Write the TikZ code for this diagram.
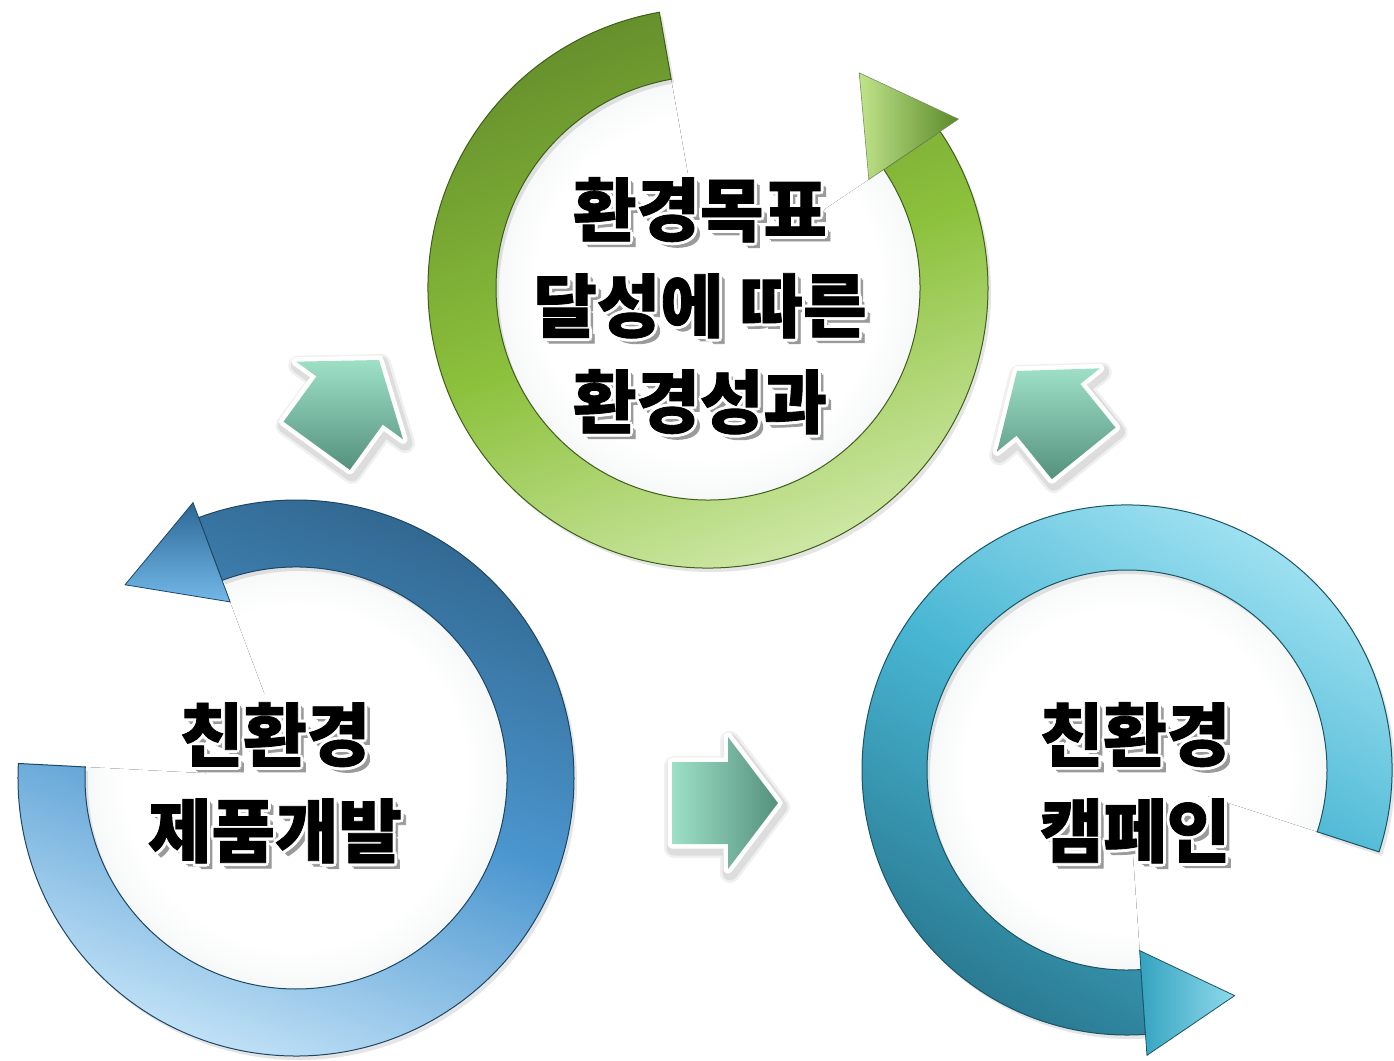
\documentclass[tikz,border=0pt]{standalone}
\usepackage{fontspec}
\newfontfamily\kr{Noto Sans CJK KR}[BoldFeatures={FakeBold=1.2}]
\definecolor{gTop}{HTML}{66902C}
\definecolor{gMid}{HTML}{8CC13C}
\definecolor{gBot}{HTML}{D2EAAC}
\definecolor{gLine}{HTML}{3F5F1A}
\definecolor{gHeadL}{HTML}{C0E38A}
\definecolor{gHeadR}{HTML}{5A8A28}
\definecolor{bTop}{HTML}{31678F}
\definecolor{bMid}{HTML}{4B96CF}
\definecolor{bBot}{HTML}{C2E2F7}
\definecolor{bLine}{HTML}{1D4665}
\definecolor{bHeadT}{HTML}{2D6896}
\definecolor{bHeadB}{HTML}{72B8E8}
\definecolor{tTop}{HTML}{A9E6F5}
\definecolor{tMid}{HTML}{48B6D3}
\definecolor{tBot}{HTML}{2A7A92}
\definecolor{tLine}{HTML}{1A5566}
\definecolor{tHeadL}{HTML}{35A3C0}
\definecolor{tHeadR}{HTML}{8FDAEC}
\definecolor{mintL}{HTML}{9EE0C7}
\definecolor{mintD}{HTML}{55917E}
\definecolor{discgray}{HTML}{E2E7E8}
\definecolor{txtshadow}{HTML}{9A9A9A}
\pgfdeclareradialshading{discglow}{\pgfpointorigin}{color(0bp)=(white); color(20bp)=(white); color(36bp)=(discgray); color(50bp)=(discgray)}
\newcommand\shiftcopy[3]{\makebox[0pt][l]{\kern#1\raisebox{#2}{#3}}}
\newcommand\olt[1]{{\color{txtshadow}\shiftcopy{4pt}{-4pt}{#1}\shiftcopy{5.5pt}{-5.5pt}{#1}}{\color{white}\shiftcopy{3pt}{0pt}{#1}\shiftcopy{-3pt}{0pt}{#1}\shiftcopy{0pt}{3pt}{#1}\shiftcopy{0pt}{-3pt}{#1}\shiftcopy{2.2pt}{2.2pt}{#1}\shiftcopy{-2.2pt}{2.2pt}{#1}\shiftcopy{2.2pt}{-2.2pt}{#1}\shiftcopy{-2.2pt}{-2.2pt}{#1}}#1}
\tikzset{
  txt/.style={align=center, font=\kr\bfseries\fontsize{69pt}{96pt}\selectfont, text=black, inner sep=0pt},
  ringshadow/.style={fill=black, opacity=.10, transform canvas={shift={(3pt,-4pt)}}},
  blockarrow/.style={
    preaction={draw=black, opacity=.06, line width=20pt, line join=round, transform canvas={shift={(2pt,-4pt)}}},
    preaction={draw=black, opacity=.08, line width=15pt, line join=round, transform canvas={shift={(2pt,-4pt)}}},
    preaction={draw=white, line width=9pt, line join=round},
    top color=mintL, bottom color=mintD},
}
\begin{document}
\begin{tikzpicture}[x=1pt,y=-1pt]
\path[use as bounding box, clip] (0,0) rectangle (1394,1060);
\fill[white] (0,0) rectangle (1394,1060);

% ---------- green ring (top) ----------
\begin{scope}[shift={(708,288)}]
  \begin{scope}
    \clip (0,0) -- (100:214pt) arc[start angle=100, end angle=394, radius=214pt] -- cycle;
    \fill[shading=discglow] (0,0) circle[radius=214pt];
  \end{scope}
  \fill[white] (0,0) circle[radius=90pt];
  \path[ringshadow] (100:280pt) arc[start angle=100, end angle=394, radius=280pt] -- (394:212pt) arc[start angle=394, end angle=100, radius=212pt] -- cycle;
  \path[top color=gTop, bottom color=gBot, middle color=gMid, shading angle=20, draw=gLine, line width=1pt]
    (100:280pt) arc[start angle=100, end angle=394, radius=280pt] -- (394:212pt) arc[start angle=394, end angle=100, radius=212pt] -- cycle;
  \path[left color=gHeadL, right color=gHeadR, draw=gLine!70, line width=.6pt]
    (34:194pt) coordinate (gh1) -- (34:302pt) coordinate (gh2) -- (54.9:263pt) coordinate (gtip) -- cycle;
\end{scope}

% ---------- blue ring (left) ----------
\begin{scope}[shift={(296,778)}]
  \begin{scope}
    \clip (0,0) -- (177:213pt) arc[start angle=177, end angle=470.5, radius=213pt] -- cycle;
    \fill[shading=discglow] (0,0) circle[radius=213pt];
  \end{scope}
  \fill[white] (0,0) circle[radius=90pt];
  \path[ringshadow] (177:278pt) arc[start angle=177, end angle=470.5, radius=278pt] -- (470.5:211pt) arc[start angle=470.5, end angle=177, radius=211pt] -- cycle;
  \path[top color=bTop, bottom color=bBot, middle color=bMid, shading angle=-20, draw=bLine, line width=1pt]
    (177:278pt) arc[start angle=177, end angle=470.5, radius=278pt] -- (470.5:211pt) arc[start angle=470.5, end angle=177, radius=211pt] -- cycle;
  \path[top color=bHeadT, bottom color=bHeadB, draw=bLine, line width=.8pt]
    (110.5:188pt) coordinate (bh1) -- (110.5:294pt) coordinate (bh2) -- (131.5:258pt) coordinate (btip) -- cycle;
\end{scope}

% ---------- teal ring (right) ----------
\begin{scope}[shift={(1127,770)}]
  \begin{scope}
    \clip (0,0) -- (-18:202pt) arc[start angle=-18, end angle=274, radius=202pt] -- cycle;
    \fill[shading=discglow] (0,0) circle[radius=202pt];
  \end{scope}
  \fill[white] (0,0) circle[radius=85pt];
  \path[ringshadow] (-18:265pt) arc[start angle=-18, end angle=274, radius=265pt] -- (274:200pt) arc[start angle=274, end angle=-18, radius=200pt] -- cycle;
  \path[top color=tTop, bottom color=tBot, middle color=tMid, shading angle=-30, draw=tLine, line width=1pt]
    (-18:265pt) arc[start angle=-18, end angle=274, radius=265pt] -- (274:200pt) arc[start angle=274, end angle=-18, radius=200pt] -- cycle;
  \path[left color=tHeadL, right color=tHeadR, draw=tLine, line width=.8pt]
    (274:181pt) coordinate (th1) -- (274:286pt) coordinate (th2) -- (295.5:250pt) coordinate (ttip) -- cycle;
\end{scope}

% ---------- block arrows ----------
\begin{scope}[shift={(379,360)}, rotate=54]
  \path[blockarrow] (0pt,0pt) coordinate (a1) -- (-50pt,66pt) -- (-50pt,41pt) -- (-106pt,41pt) -- (-106pt,-41pt) -- (-50pt,-41pt) -- (-50pt,-66pt) -- cycle;
\end{scope}
\begin{scope}[shift={(1017,371)}, rotate=129]
  \path[blockarrow] (0pt,0pt) coordinate (a2) -- (-50pt,66pt) -- (-50pt,41pt) -- (-106pt,41pt) -- (-106pt,-41pt) -- (-50pt,-41pt) -- (-50pt,-66pt) -- cycle;
\end{scope}
\begin{scope}[shift={(778,803)}]
  \path[blockarrow, left color=mintL, right color=mintD] (0pt,0pt) coordinate (a3) -- (-50pt,66pt) -- (-50pt,41pt) -- (-106pt,41pt) -- (-106pt,-41pt) -- (-50pt,-41pt) -- (-50pt,-66pt) -- cycle;
\end{scope}

% ---------- texts ----------
\node[txt] (tgreen) at (700,307) {\olt{환경목표}\\\olt{달성에 따른}\\\olt{환경성과}};
\node[txt] (tblue) at (275,784) {\olt{친환경}\\\olt{제품개발}};
\node[txt] (tteal) at (1135,784) {\olt{친환경}\\\olt{캠페인}};
\end{tikzpicture}
\end{document}
